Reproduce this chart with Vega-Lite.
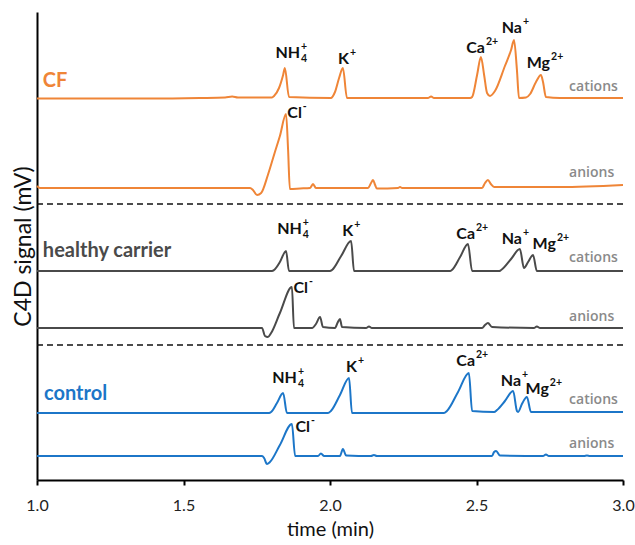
{
  "$schema": "https://vega.github.io/schema/vega-lite/v6.json",
  "width": 586,
  "height": 468,
  "autosize": "none",
  "padding": {"left": 37, "top": 12, "right": 12, "bottom": 65},
  "config": {"view": {"stroke": null}, "font": "Lato"},
  "datasets": {
    "traces": [
      {"series":"CF cations","sample":"CF","time":1.000,"signal":381.5},
      {"series":"CF cations","sample":"CF","time":1.386,"signal":381.5},
      {"series":"CF cations","sample":"CF","time":1.556,"signal":382},
      {"series":"CF cations","sample":"CF","time":1.642,"signal":382.5},
      {"series":"CF cations","sample":"CF","time":1.666,"signal":383.5},
      {"series":"CF cations","sample":"CF","time":1.686,"signal":382.5},
      {"series":"CF cations","sample":"CF","time":1.802,"signal":382.5},
      {"series":"CF cations","sample":"CF","time":1.809,"signal":384},
      {"series":"CF cations","sample":"CF","time":1.826,"signal":392},
      {"series":"CF cations","sample":"CF","time":1.840,"signal":405},
      {"series":"CF cations","sample":"CF","time":1.846,"signal":412},
      {"series":"CF cations","sample":"CF","time":1.860,"signal":383},
      {"series":"CF cations","sample":"CF","time":2.003,"signal":382},
      {"series":"CF cations","sample":"CF","time":2.017,"signal":388},
      {"series":"CF cations","sample":"CF","time":2.031,"signal":402},
      {"series":"CF cations","sample":"CF","time":2.044,"signal":412},
      {"series":"CF cations","sample":"CF","time":2.058,"signal":382},
      {"series":"CF cations","sample":"CF","time":2.334,"signal":382},
      {"series":"CF cations","sample":"CF","time":2.345,"signal":383.5},
      {"series":"CF cations","sample":"CF","time":2.355,"signal":382},
      {"series":"CF cations","sample":"CF","time":2.478,"signal":382},
      {"series":"CF cations","sample":"CF","time":2.485,"signal":383},
      {"series":"CF cations","sample":"CF","time":2.502,"signal":405},
      {"series":"CF cations","sample":"CF","time":2.515,"signal":423},
      {"series":"CF cations","sample":"CF","time":2.526,"signal":405},
      {"series":"CF cations","sample":"CF","time":2.536,"signal":387},
      {"series":"CF cations","sample":"CF","time":2.546,"signal":384},
      {"series":"CF cations","sample":"CF","time":2.563,"signal":389},
      {"series":"CF cations","sample":"CF","time":2.597,"signal":414},
      {"series":"CF cations","sample":"CF","time":2.618,"signal":430},
      {"series":"CF cations","sample":"CF","time":2.628,"signal":440},
      {"series":"CF cations","sample":"CF","time":2.638,"signal":410},
      {"series":"CF cations","sample":"CF","time":2.645,"signal":382},
      {"series":"CF cations","sample":"CF","time":2.669,"signal":382.5},
      {"series":"CF cations","sample":"CF","time":2.683,"signal":386},
      {"series":"CF cations","sample":"CF","time":2.703,"signal":398},
      {"series":"CF cations","sample":"CF","time":2.720,"signal":405},
      {"series":"CF cations","sample":"CF","time":2.727,"signal":398},
      {"series":"CF cations","sample":"CF","time":2.737,"signal":383},
      {"series":"CF cations","sample":"CF","time":2.785,"signal":382},
      {"series":"CF cations","sample":"CF","time":3.000,"signal":382},

      {"series":"CF anions","sample":"CF","time":1.000,"signal":294},
      {"series":"CF anions","sample":"CF","time":1.010,"signal":292},
      {"series":"CF anions","sample":"CF","time":1.215,"signal":292},
      {"series":"CF anions","sample":"CF","time":1.556,"signal":292},
      {"series":"CF anions","sample":"CF","time":1.727,"signal":292},
      {"series":"CF anions","sample":"CF","time":1.737,"signal":290},
      {"series":"CF anions","sample":"CF","time":1.751,"signal":285},
      {"series":"CF anions","sample":"CF","time":1.765,"signal":287},
      {"series":"CF anions","sample":"CF","time":1.788,"signal":305},
      {"series":"CF anions","sample":"CF","time":1.812,"signal":328},
      {"series":"CF anions","sample":"CF","time":1.829,"signal":344},
      {"series":"CF anions","sample":"CF","time":1.850,"signal":366},
      {"series":"CF anions","sample":"CF","time":1.857,"signal":330},
      {"series":"CF anions","sample":"CF","time":1.863,"signal":291},
      {"series":"CF anions","sample":"CF","time":1.898,"signal":291.5},
      {"series":"CF anions","sample":"CF","time":1.932,"signal":292},
      {"series":"CF anions","sample":"CF","time":1.942,"signal":296},
      {"series":"CF anions","sample":"CF","time":1.952,"signal":292},
      {"series":"CF anions","sample":"CF","time":2.130,"signal":292},
      {"series":"CF anions","sample":"CF","time":2.140,"signal":297},
      {"series":"CF anions","sample":"CF","time":2.147,"signal":300},
      {"series":"CF anions","sample":"CF","time":2.154,"signal":295},
      {"series":"CF anions","sample":"CF","time":2.160,"signal":291.5},
      {"series":"CF anions","sample":"CF","time":2.232,"signal":292},
      {"series":"CF anions","sample":"CF","time":2.239,"signal":293},
      {"series":"CF anions","sample":"CF","time":2.246,"signal":292},
      {"series":"CF anions","sample":"CF","time":2.519,"signal":292},
      {"series":"CF anions","sample":"CF","time":2.529,"signal":297},
      {"series":"CF anions","sample":"CF","time":2.539,"signal":300},
      {"series":"CF anions","sample":"CF","time":2.549,"signal":296},
      {"series":"CF anions","sample":"CF","time":2.560,"signal":293},
      {"series":"CF anions","sample":"CF","time":2.785,"signal":293},
      {"series":"CF anions","sample":"CF","time":3.000,"signal":295},

      {"series":"HC cations","sample":"healthy carrier","time":1.000,"signal":209},
      {"series":"HC cations","sample":"healthy carrier","time":1.802,"signal":209},
      {"series":"HC cations","sample":"healthy carrier","time":1.809,"signal":210},
      {"series":"HC cations","sample":"healthy carrier","time":1.829,"signal":218},
      {"series":"HC cations","sample":"healthy carrier","time":1.850,"signal":229},
      {"series":"HC cations","sample":"healthy carrier","time":1.860,"signal":209},
      {"series":"HC cations","sample":"healthy carrier","time":2.000,"signal":209},
      {"series":"HC cations","sample":"healthy carrier","time":2.007,"signal":210},
      {"series":"HC cations","sample":"healthy carrier","time":2.038,"signal":224},
      {"series":"HC cations","sample":"healthy carrier","time":2.072,"signal":239},
      {"series":"HC cations","sample":"healthy carrier","time":2.082,"signal":209},
      {"series":"HC cations","sample":"healthy carrier","time":2.410,"signal":209},
      {"series":"HC cations","sample":"healthy carrier","time":2.416,"signal":210},
      {"series":"HC cations","sample":"healthy carrier","time":2.444,"signal":223},
      {"series":"HC cations","sample":"healthy carrier","time":2.471,"signal":236},
      {"series":"HC cations","sample":"healthy carrier","time":2.485,"signal":209},
      {"series":"HC cations","sample":"healthy carrier","time":2.577,"signal":209},
      {"series":"HC cations","sample":"healthy carrier","time":2.584,"signal":210},
      {"series":"HC cations","sample":"healthy carrier","time":2.618,"signal":221},
      {"series":"HC cations","sample":"healthy carrier","time":2.648,"signal":231},
      {"series":"HC cations","sample":"healthy carrier","time":2.662,"signal":212},
      {"series":"HC cations","sample":"healthy carrier","time":2.676,"signal":218},
      {"series":"HC cations","sample":"healthy carrier","time":2.693,"signal":225},
      {"series":"HC cations","sample":"healthy carrier","time":2.706,"signal":209},
      {"series":"HC cations","sample":"healthy carrier","time":3.000,"signal":209},

      {"series":"HC anions","sample":"healthy carrier","time":1.000,"signal":152},
      {"series":"HC anions","sample":"healthy carrier","time":1.768,"signal":152},
      {"series":"HC anions","sample":"healthy carrier","time":1.778,"signal":144},
      {"series":"HC anions","sample":"healthy carrier","time":1.788,"signal":143},
      {"series":"HC anions","sample":"healthy carrier","time":1.799,"signal":147},
      {"series":"HC anions","sample":"healthy carrier","time":1.829,"signal":167},
      {"series":"HC anions","sample":"healthy carrier","time":1.870,"signal":193},
      {"series":"HC anions","sample":"healthy carrier","time":1.877,"signal":152},
      {"series":"HC anions","sample":"healthy carrier","time":1.939,"signal":152},
      {"series":"HC anions","sample":"healthy carrier","time":1.952,"signal":156},
      {"series":"HC anions","sample":"healthy carrier","time":1.966,"signal":163},
      {"series":"HC anions","sample":"healthy carrier","time":1.976,"signal":153},
      {"series":"HC anions","sample":"healthy carrier","time":2.017,"signal":152},
      {"series":"HC anions","sample":"healthy carrier","time":2.027,"signal":158},
      {"series":"HC anions","sample":"healthy carrier","time":2.034,"signal":161},
      {"series":"HC anions","sample":"healthy carrier","time":2.041,"signal":153},
      {"series":"HC anions","sample":"healthy carrier","time":2.123,"signal":152},
      {"series":"HC anions","sample":"healthy carrier","time":2.133,"signal":153.5},
      {"series":"HC anions","sample":"healthy carrier","time":2.143,"signal":152},
      {"series":"HC anions","sample":"healthy carrier","time":2.519,"signal":152},
      {"series":"HC anions","sample":"healthy carrier","time":2.529,"signal":155},
      {"series":"HC anions","sample":"healthy carrier","time":2.539,"signal":157},
      {"series":"HC anions","sample":"healthy carrier","time":2.553,"signal":153},
      {"series":"HC anions","sample":"healthy carrier","time":2.696,"signal":152},
      {"series":"HC anions","sample":"healthy carrier","time":2.706,"signal":153.5},
      {"series":"HC anions","sample":"healthy carrier","time":2.717,"signal":152},
      {"series":"HC anions","sample":"healthy carrier","time":3.000,"signal":152},

      {"series":"CT cations","sample":"control","time":1.000,"signal":67},
      {"series":"CT cations","sample":"control","time":1.792,"signal":67},
      {"series":"CT cations","sample":"control","time":1.799,"signal":68},
      {"series":"CT cations","sample":"control","time":1.819,"signal":77},
      {"series":"CT cations","sample":"control","time":1.840,"signal":87},
      {"series":"CT cations","sample":"control","time":1.853,"signal":67},
      {"series":"CT cations","sample":"control","time":1.993,"signal":67},
      {"series":"CT cations","sample":"control","time":2.003,"signal":69},
      {"series":"CT cations","sample":"control","time":2.034,"signal":85},
      {"series":"CT cations","sample":"control","time":2.065,"signal":102},
      {"series":"CT cations","sample":"control","time":2.075,"signal":67},
      {"series":"CT cations","sample":"control","time":2.389,"signal":67},
      {"series":"CT cations","sample":"control","time":2.399,"signal":69},
      {"series":"CT cations","sample":"control","time":2.437,"signal":88},
      {"series":"CT cations","sample":"control","time":2.474,"signal":107},
      {"series":"CT cations","sample":"control","time":2.485,"signal":69},
      {"series":"CT cations","sample":"control","time":2.560,"signal":68},
      {"series":"CT cations","sample":"control","time":2.570,"signal":70},
      {"series":"CT cations","sample":"control","time":2.597,"signal":79},
      {"series":"CT cations","sample":"control","time":2.625,"signal":89},
      {"series":"CT cations","sample":"control","time":2.638,"signal":69},
      {"series":"CT cations","sample":"control","time":2.642,"signal":68},
      {"series":"CT cations","sample":"control","time":2.655,"signal":76},
      {"series":"CT cations","sample":"control","time":2.672,"signal":83},
      {"series":"CT cations","sample":"control","time":2.686,"signal":68},
      {"series":"CT cations","sample":"control","time":3.000,"signal":68},

      {"series":"CT anions","sample":"control","time":1.000,"signal":24},
      {"series":"CT anions","sample":"control","time":1.768,"signal":24},
      {"series":"CT anions","sample":"control","time":1.775,"signal":22},
      {"series":"CT anions","sample":"control","time":1.785,"signal":16},
      {"series":"CT anions","sample":"control","time":1.795,"signal":18},
      {"series":"CT anions","sample":"control","time":1.829,"signal":35},
      {"series":"CT anions","sample":"control","time":1.870,"signal":56},
      {"series":"CT anions","sample":"control","time":1.881,"signal":24},
      {"series":"CT anions","sample":"control","time":1.959,"signal":24},
      {"series":"CT anions","sample":"control","time":1.969,"signal":26.5},
      {"series":"CT anions","sample":"control","time":1.980,"signal":24},
      {"series":"CT anions","sample":"control","time":2.034,"signal":24},
      {"series":"CT anions","sample":"control","time":2.044,"signal":31},
      {"series":"CT anions","sample":"control","time":2.055,"signal":24.5},
      {"series":"CT anions","sample":"control","time":2.140,"signal":24},
      {"series":"CT anions","sample":"control","time":2.150,"signal":25},
      {"series":"CT anions","sample":"control","time":2.160,"signal":24},
      {"series":"CT anions","sample":"control","time":2.553,"signal":24},
      {"series":"CT anions","sample":"control","time":2.560,"signal":28},
      {"series":"CT anions","sample":"control","time":2.567,"signal":29},
      {"series":"CT anions","sample":"control","time":2.580,"signal":24.5},
      {"series":"CT anions","sample":"control","time":2.727,"signal":24},
      {"series":"CT anions","sample":"control","time":2.737,"signal":25.5},
      {"series":"CT anions","sample":"control","time":2.747,"signal":24},
      {"series":"CT anions","sample":"control","time":2.867,"signal":24},
      {"series":"CT anions","sample":"control","time":2.877,"signal":24.5},
      {"series":"CT anions","sample":"control","time":2.887,"signal":24},
      {"series":"CT anions","sample":"control","time":3.000,"signal":24}
    ],
    "separators": [{"signal": 276}, {"signal": 135}],
    "groups": [
      {"sample":"CF","time":1.020,"signal":399,"label":"CF"},
      {"sample":"healthy carrier","time":1.020,"signal":229,"label":"healthy carrier"},
      {"sample":"control","time":1.024,"signal":86,"label":"control"}
    ],
    "ions": [
      {"time":1.898,"signal":427.5,"base":"NH","sub":"4","sup":"+"},
      {"time":2.065,"signal":421,"base":"K","sub":"","sup":"+"},
      {"time":2.529,"signal":432.5,"base":"Ca","sub":"","sup":"2+"},
      {"time":2.655,"signal":452.5,"base":"Na","sub":"","sup":"+"},
      {"time":2.751,"signal":417.5,"base":"Mg","sub":"","sup":"2+"},
      {"time":1.904,"signal":367.5,"base":"Cl","sub":"","sup":"-"},
      {"time":1.904,"signal":251,"base":"NH","sub":"4","sup":"+"},
      {"time":2.079,"signal":249.5,"base":"K","sub":"","sup":"+"},
      {"time":2.495,"signal":246,"base":"Ca","sub":"","sup":"2+"},
      {"time":2.655,"signal":241.5,"base":"Na","sub":"","sup":"+"},
      {"time":2.771,"signal":236.5,"base":"Mg","sub":"","sup":"2+"},
      {"time":1.925,"signal":192.5,"base":"Cl","sub":"","sup":"-"},
      {"time":1.887,"signal":102.5,"base":"NH","sub":"4","sup":"+"},
      {"time":2.092,"signal":113.5,"base":"K","sub":"","sup":"+"},
      {"time":2.495,"signal":119,"base":"Ca","sub":"","sup":"2+"},
      {"time":2.652,"signal":99,"base":"Na","sub":"","sup":"+"},
      {"time":2.747,"signal":91,"base":"Mg","sub":"","sup":"2+"},
      {"time":1.932,"signal":53,"base":"Cl","sub":"","sup":"-"}
    ],
    "modes": [
      {"time":2.816,"signal":393,"label":"cations"},
      {"time":2.816,"signal":307,"label":"anions"},
      {"time":2.816,"signal":222,"label":"cations"},
      {"time":2.816,"signal":163,"label":"anions"},
      {"time":2.816,"signal":80,"label":"cations"},
      {"time":2.816,"signal":36,"label":"anions"}
    ]
  },
  "layer": [
    {
      "data": {"name": "traces"},
      "mark": {"type": "line", "strokeWidth": 2, "interpolate": "monotone"},
      "encoding": {
        "x": {
          "field": "time", "type": "quantitative",
          "scale": {"domain": [1, 3], "nice": false, "zero": false},
          "axis": {
            "title": "time (min)", "values": [1, 1.5, 2, 2.5, 3], "format": ".1f",
            "grid": false, "domainColor": "#000", "domainWidth": 2, "tickColor": "#000", "tickWidth": 2, "tickSize": 5,
            "labelFont": "Lato", "labelFontSize": 16, "labelColor": "#222", "labelPadding": 12, "labelFlush": false,
            "titleFont": "Lato", "titleFontSize": 20, "titleFontWeight": "normal", "titleColor": "#111", "titlePadding": 6
          }
        },
        "y": {
          "field": "signal", "type": "quantitative",
          "scale": {"domain": [0, 468], "nice": false, "zero": false},
          "axis": {
            "title": "C4D signal (mV)", "grid": false, "ticks": false, "labels": false,
            "domainColor": "#000", "domainWidth": 2,
            "titleFont": "Lato", "titleFontSize": 23, "titleFontWeight": "normal", "titleColor": "#111", "titlePadding": 2
          }
        },
        "detail": {"field": "series"},
        "color": {
          "field": "sample", "type": "nominal", "legend": null,
          "scale": {"domain": ["CF", "healthy carrier", "control"], "range": ["#EF8537", "#4A4A4A", "#1C76C8"]}
        }
      }
    },
    {
      "data": {"name": "separators"},
      "mark": {"type": "rule", "strokeDash": [6, 4], "strokeWidth": 1.6, "color": "#111"},
      "encoding": {"y": {"field": "signal", "type": "quantitative"}}
    },
    {
      "data": {"name": "groups"},
      "mark": {"type": "text", "align": "left", "baseline": "middle", "font": "Lato", "fontWeight": "bold", "fontSize": 20},
      "encoding": {
        "x": {"field": "time", "type": "quantitative"},
        "y": {"field": "signal", "type": "quantitative"},
        "text": {"field": "label"},
        "color": {"field": "sample", "type": "nominal", "legend": null}
      }
    },
    {
      "data": {"name": "ions"},
      "mark": {"type": "text", "align": "right", "baseline": "middle", "font": "Lato", "fontWeight": "bold", "fontSize": 16, "color": "#111"},
      "encoding": {
        "x": {"field": "time", "type": "quantitative"},
        "y": {"field": "signal", "type": "quantitative"},
        "text": {"field": "base"}
      }
    },
    {
      "data": {"name": "ions"},
      "mark": {"type": "text", "align": "left", "baseline": "middle", "font": "Lato", "fontWeight": "bold", "fontSize": 10.5, "color": "#111", "dx": 1, "dy": -6},
      "encoding": {
        "x": {"field": "time", "type": "quantitative"},
        "y": {"field": "signal", "type": "quantitative"},
        "text": {"field": "sup"}
      }
    },
    {
      "data": {"name": "ions"},
      "mark": {"type": "text", "align": "left", "baseline": "middle", "font": "Lato", "fontWeight": "bold", "fontSize": 10.5, "color": "#111", "dx": 1, "dy": 6},
      "encoding": {
        "x": {"field": "time", "type": "quantitative"},
        "y": {"field": "signal", "type": "quantitative"},
        "text": {"field": "sub"}
      }
    },
    {
      "data": {"name": "modes"},
      "mark": {"type": "text", "align": "left", "baseline": "middle", "font": "Open Sans", "fontSize": 14, "fontWeight": 600, "color": "#8A8A8A"},
      "encoding": {
        "x": {"field": "time", "type": "quantitative"},
        "y": {"field": "signal", "type": "quantitative"},
        "text": {"field": "label"}
      }
    }
  ]
}
